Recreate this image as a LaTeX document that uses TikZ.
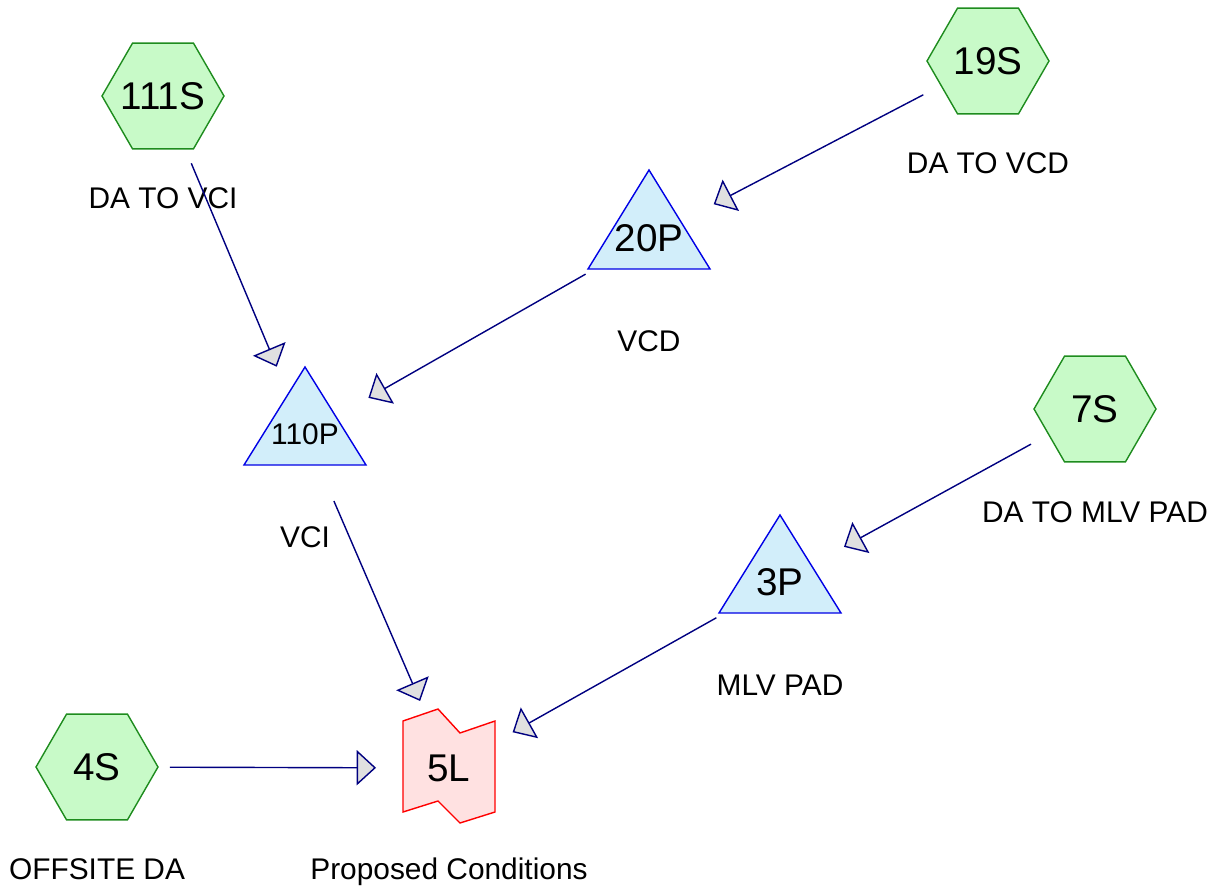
\documentclass[tikz,border=0pt]{standalone}
\usepackage{fontspec}
\setmainfont{Liberation Sans}
\usetikzlibrary{arrows.meta,shapes.geometric}

\definecolor{subfill}{RGB}{200,250,200}
\definecolor{subline}{RGB}{30,140,30}
\definecolor{pondfill}{RGB}{210,238,250}
\definecolor{pondline}{RGB}{0,0,230}
\definecolor{linkfill}{RGB}{255,225,225}
\definecolor{linkline}{RGB}{255,0,0}
\definecolor{flowline}{RGB}{0,0,128}
\definecolor{headfill}{RGB}{224,224,224}

\begin{document}
\begin{tikzpicture}[x=0.02cm, y=-0.02cm,
  sub/.style={regular polygon, regular polygon sides=6, minimum size=2.44cm, inner sep=0pt,
    draw=subline, fill=subfill, line width=0.8pt,
    font=\fontsize{22}{26}\selectfont, text height=15.7pt, text depth=0pt},
  pond/.style={draw=pondline, fill=pondfill, line width=0.8pt},
  link/.style={draw=linkline, fill=linkfill, line width=0.8pt},
  big/.style={inner sep=0pt, font=\fontsize{22}{26}\selectfont, text height=15.7pt, text depth=0pt},
  tag/.style={inner sep=0pt, font=\fontsize{17}{20}\selectfont, text height=12.2pt, text depth=0pt},
  flow/.style={draw=flowline, line width=0.8pt,
    -{Triangle[length=11pt, width=20pt, fill=headfill]},
    shorten <=1.46cm, shorten >=1.46cm}]

\useasboundingbox (0,0) rectangle (1228,892);

% Subbasins
\node[sub] (s111) at (163,96) {\makebox[0pt]{111S}};
\node[sub] (s19) at (988,61) {\makebox[0pt]{19S}};
\node[sub] (s7) at (1095,409) {\makebox[0pt]{7S}};
\node[sub] (s4) at (97,767) {\makebox[0pt]{4S}};

% Ponds
\filldraw[pond] (649,170) -- (710,269) -- (588,269) -- cycle;
\node[big] (p20) at (649,238) {20P};
\filldraw[pond] (305,367) -- (366,465) -- (244,465) -- cycle;
\node[big, font=\fontsize{17}{20}\selectfont, text height=12.2pt] (p110) at (305,434) {110P};
\filldraw[pond] (780,515) -- (841,613) -- (719,613) -- cycle;
\node[big] (p3) at (780,582) {3P};

% Link
\filldraw[link] (403,721) -- (438,709) -- (460,733) -- (495,721) -- (495,812)
  -- (460,823) -- (438,801) -- (403,812) -- cycle;
\node[big] (l5) at (449,768) {5L};

% Beschriftungen
\node[tag] (t111) at (163,198) {DA TO VCI};
\node[tag] (t19) at (988,163) {DA TO VCD};
\node[tag] (t20) at (649,341) {VCD};
\node[tag] (t110) at (305,537) {VCI};
\node[tag] (t7) at (1095,512) {DA TO MLV PAD};
\node[tag] (t3) at (780,685) {MLV PAD};
\node[tag] (t4) at (97,869) {OFFSITE DA};
\node[tag] (t5) at (449,869) {Proposed Conditions};

% Verbindungen
\draw[flow] (s111.center) -- (p110.center);
\draw[flow] (s19.center) -- (p20.center);
\draw[flow] (p20.center) -- (p110.center);
\draw[flow] (p110.center) -- (l5.center);
\draw[flow] (s7.center) -- (p3.center);
\draw[flow] (p3.center) -- (l5.center);
\draw[flow] (s4.center) -- (l5.center);

\end{tikzpicture}
\end{document}
